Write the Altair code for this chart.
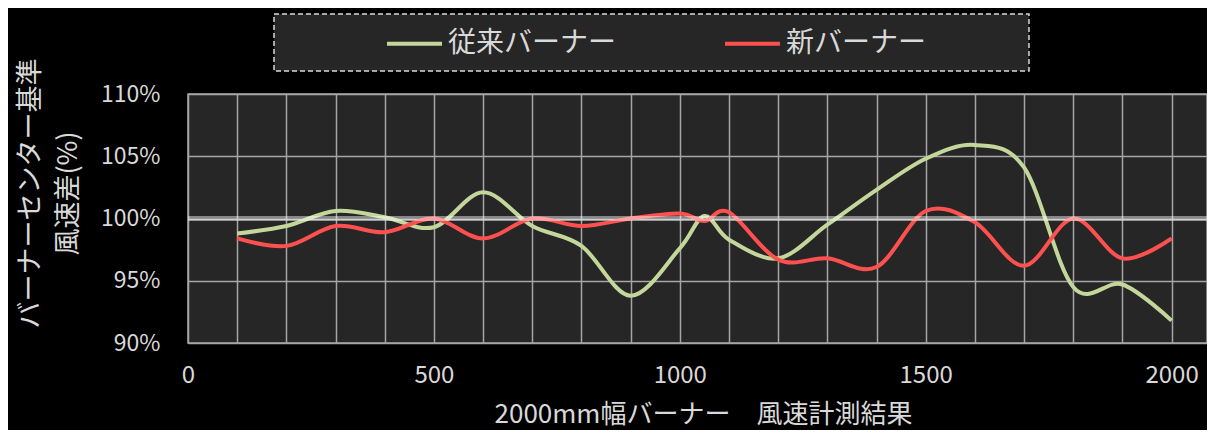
import altair as alt
import pandas as pd

positions = [100, 200, 300, 400, 500, 600, 700, 800, 900, 1000, 1050, 1100,
             1200, 1300, 1400, 1500, 1600, 1700, 1800, 1900, 2000]
conventional = [98.8, 99.4, 100.6, 100.1, 99.3, 102.1, 99.4, 97.8, 93.8, 97.6, 100.2, 98.3,
                96.8, 99.5, 102.3, 104.8, 105.9, 104.1, 94.5, 94.7, 91.8]
new_burner = [98.4, 97.8, 99.4, 98.9, 100.0, 98.4, 100.0, 99.4, 100.0, 100.4, 99.8, 100.5,
              96.7, 96.8, 96.1, 100.6, 99.7, 96.2, 100.0, 96.8, 98.4]
series_names = ["従来バーナー", "新バーナー"]
series_colors = ["#c4d79b", "#ff5050"]
x_ticks = list(range(0, 2001, 100))
y_ticks = [90, 95, 100, 105, 110]

rows = []
for name, vals in zip(series_names, [conventional, new_burner]):
    for p, v in zip(positions, vals):
        rows.append({"pos": p, "val": v, "series": name})
df = pd.DataFrame(rows)

FONT = "Noto Sans CJK JP"
TXT = "#d9d9d9"

x_enc = alt.X("pos:Q", scale=alt.Scale(domain=[0, 2072], nice=False, zero=False),
              axis=alt.Axis(values=x_ticks,
                            labelExpr="datum.value % 500 === 0 ? datum.label : ''",
                            format="d", grid=True, gridColor="#a6a6a6", gridWidth=1.5,
                            domain=False, ticks=False, labelFontSize=24, labelColor=TXT,
                            labelFont=FONT, labelPadding=20, labelFlush=False,
                            title="2000mm幅バーナー　風速計測結果", titleFontSize=26,
                            titleFont=FONT, titleColor=TXT, titleFontWeight="normal",
                            titleBaseline="alphabetic", titleY=79, titleX=515))
y_enc = alt.Y("val:Q", scale=alt.Scale(domain=[90, 110], nice=False, zero=False),
              axis=alt.Axis(values=y_ticks, labelExpr="datum.value + '%'",
                            grid=True, gridColor="#a6a6a6", gridWidth=1.5,
                            domain=False, ticks=False, labelFontSize=23, labelColor=TXT,
                            labelFont=FONT, labelPadding=28, labelFlush=False,
                            title=["バーナーセンター基準", "風速差(%)"], titleFontSize=27,
                            titleFont=FONT, titleColor=TXT, titleFontWeight="normal",
                            titleAngle=-90, titleAlign="center", titleBaseline="top",
                            titleLineHeight=38, titleX=-171, titleY=99))

box = alt.Chart(pd.DataFrame({"k": [0]})).mark_rect(
    fill="#262626", stroke="#d9d9d9", strokeDash=[5, 3], strokeWidth=1.5
).encode(x=alt.value(86), x2=alt.value(841), y=alt.value(-80), y2=alt.value(-23))

lines = alt.Chart(df).mark_line(interpolate="cardinal", strokeWidth=4).encode(
    x=x_enc, y=y_enc,
    color=alt.Color("series:N",
                    scale=alt.Scale(domain=series_names, range=series_colors),
                    sort=series_names,
                    legend=alt.Legend(title="", orient="none", legendX=197, legendY=-80,
                                      direction="horizontal", symbolType="stroke",
                                      symbolSize=3025, symbolStrokeWidth=4,
                                      labelFontSize=28, labelFont=FONT, labelColor=TXT,
                                      labelOffset=4, columnPadding=100, padding=0,
                                      labelLimit=400))
)

ref = alt.Chart(pd.DataFrame({"val": [100]})).mark_rule(
    color="white", opacity=0.45, strokeWidth=5
).encode(y=alt.Y("val:Q"))

chart = alt.layer(box, lines, ref).properties(
    width=1019, height=249,
    padding={"left": 180, "top": 86, "right": 0, "bottom": 87},
    autosize=alt.AutoSizeParams(type="none"),
    background="black",
).configure_view(fill="#262626", stroke="#a6a6a6", strokeWidth=1.5)

chart.save("out.html", embed_options={"renderer": "svg", "actions": False})
